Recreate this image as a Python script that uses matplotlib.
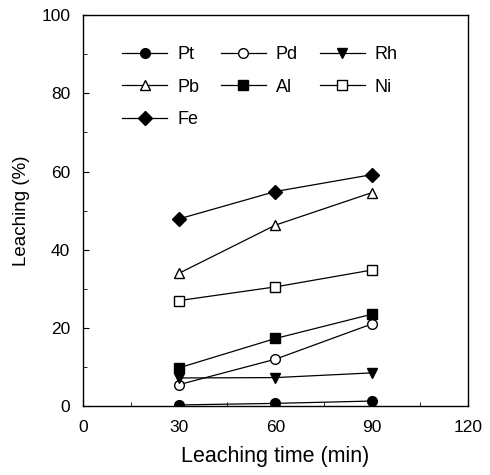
import matplotlib
matplotlib.use("Agg")
import matplotlib.pyplot as plt
from matplotlib.ticker import MultipleLocator

time_min = [30, 60, 90]
pt = [0.3, 0.7, 1.3]
pd_ = [5.5, 12.0, 21.0]
rh = [7.2, 7.3, 8.5]
pb = [34.0, 46.3, 54.6]
al = [9.8, 17.3, 23.5]
ni = [27.0, 30.5, 34.8]
fe = [47.9, 54.9, 59.2]

plt.rcParams["font.family"] = ["Liberation Sans", "DejaVu Sans"]

fig = plt.figure(figsize=(4.9, 4.75), dpi=100)
ax = fig.add_axes([0.169, 0.145, 0.786, 0.823])

style = dict(color="black", lw=0.9, ms=7, mec="black")
h_pt, = ax.plot(time_min, pt, "o", ls="-", mfc="black", label="Pt", **style)
h_pd, = ax.plot(time_min, pd_, "o", ls="-", mfc="white", label="Pd", **style)
h_rh, = ax.plot(time_min, rh, "v", ls="-", mfc="black", label="Rh", **style)
h_pb, = ax.plot(time_min, pb, "^", ls="-", mfc="white", label="Pb", **style)
h_al, = ax.plot(time_min, al, "s", ls="-", mfc="black", label="Al", **style)
h_ni, = ax.plot(time_min, ni, "s", ls="-", mfc="white", label="Ni", **style)
h_fe, = ax.plot(time_min, fe, "D", ls="-", mfc="black", label="Fe", **style)

ax.set_xlim(0, 120)
ax.set_ylim(0, 100)
ax.xaxis.set_major_locator(MultipleLocator(30))
ax.xaxis.set_minor_locator(MultipleLocator(15))
ax.yaxis.set_major_locator(MultipleLocator(20))
ax.yaxis.set_minor_locator(MultipleLocator(10))
ax.tick_params(which="both", direction="in", labelsize=12.5, top=False, right=False)
ax.tick_params(which="major", length=4)
ax.tick_params(which="minor", length=3)
ax.tick_params(axis="x", which="major", pad=10)
ax.tick_params(axis="y", which="major", pad=9)
ax.set_xlabel("Leaching time (min)", fontsize=15.5, labelpad=8)
ax.set_ylabel("Leaching (%)", fontsize=13.5, labelpad=8)
for s in ax.spines.values():
    s.set_linewidth(1.0)

# column-wise order so rows read Pt Pd Rh / Pb Al Ni / Fe
handles = [h_pt, h_pb, h_fe, h_pd, h_al, h_rh, h_ni]
ax.legend(handles=handles, ncol=3, frameon=False, fontsize=13,
          loc="upper left", bbox_to_anchor=(0.06, 0.962),
          handlelength=2.5, columnspacing=1.2, labelspacing=0.85,
          handletextpad=0.55)

fig.savefig("out.png", dpi=100)
